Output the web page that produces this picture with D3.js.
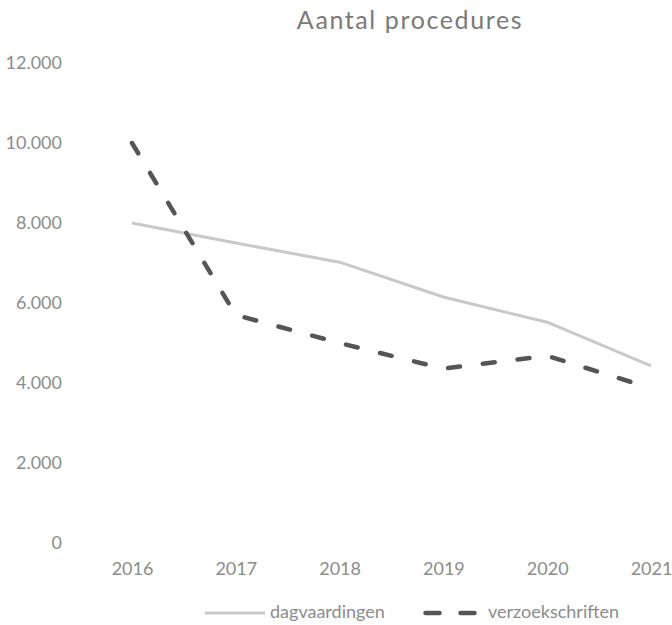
<!DOCTYPE html>
<html>
<head>
<meta charset="utf-8">
<script src="https://cdn.jsdelivr.net/npm/d3@7"></script>
<style>
  body { margin: 0; background: #fff; }
  text { font-family: Lato, "Open Sans", sans-serif; }
</style>
</head>
<body>
<div class="canvas"></div>
<script>
const years = [2016, 2017, 2018, 2019, 2020, 2021];
const dagvaardingen = [8000, 7500, 7020, 6150, 5520, 4430];
const verzoekschriften = [10000, 5700, 5000, 4360, 4680, 3870];
const yTicks = [0, 2000, 4000, 6000, 8000, 10000, 12000];

const dims = {width: 672, height: 625};
const plot = {left: 132, right: 651, top: 63, bottom: 543};

const svg = d3.select('.canvas').append('svg')
  .attr('width', dims.width)
  .attr('height', dims.height);

const x = d3.scalePoint().domain(years).range([plot.left, plot.right]);
const y = d3.scaleLinear().domain([0, 12000]).range([plot.bottom, plot.top]);

const fmt = d => d3.format(',')(d).replace(/,/g, '.');

// title
svg.append('text')
  .attr('x', 410).attr('y', 29)
  .attr('text-anchor', 'middle')
  .attr('font-size', 25)
  .attr('letter-spacing', 1.6)
  .attr('fill', '#7a7a7a')
  .text('Aantal procedures');

// y axis labels
const yAxis = svg.append('g')
  .attr('transform', 'translate(62,0)')
  .call(d3.axisLeft(y).tickValues(yTicks).tickFormat(fmt).tickSize(0).tickPadding(0));
yAxis.select('.domain').remove();
yAxis.selectAll('text').attr('font-size', 18).attr('fill', '#8c8c8c').attr('font-family', 'Lato, sans-serif');

// x axis labels
const xAxis = svg.append('g')
  .attr('transform', 'translate(0,562.5)')
  .call(d3.axisBottom(x).tickSize(0).tickPadding(0));
xAxis.select('.domain').remove();
xAxis.selectAll('text').attr('font-size', 18).attr('fill', '#8c8c8c').attr('font-family', 'Lato, sans-serif');

const line = d3.line().x((d, i) => x(years[i])).y(d => y(d));

svg.append('path')
  .datum(dagvaardingen)
  .attr('fill', 'none')
  .attr('stroke', '#c9c9c9')
  .attr('stroke-width', 3)
  .attr('stroke-linejoin', 'round')
  .attr('d', line);

svg.append('path')
  .datum(verzoekschriften)
  .attr('fill', 'none')
  .attr('stroke', '#555')
  .attr('stroke-width', 4.5)
  .attr('stroke-linecap', 'round')
  .attr('stroke-dasharray', '12,23')
  .attr('d', line);

// legend
const legend = svg.append('g').attr('transform', 'translate(0,613)');
legend.append('line')
  .attr('x1', 205).attr('x2', 265).attr('y1', 0).attr('y2', 0)
  .attr('stroke', '#c9c9c9').attr('stroke-width', 3);
legend.append('text')
  .attr('x', 270).attr('y', 5)
  .attr('font-size', 18).attr('fill', '#8c8c8c')
  .text('dagvaardingen');
legend.append('line')
  .attr('x1', 425.5).attr('x2', 474.5).attr('y1', 0).attr('y2', 0)
  .attr('stroke', '#555').attr('stroke-width', 4.5)
  .attr('stroke-linecap', 'round')
  .attr('stroke-dasharray', '14,21');
legend.append('text')
  .attr('x', 488).attr('y', 5)
  .attr('font-size', 18).attr('fill', '#8c8c8c')
  .text('verzoekschriften');
</script>
</body>
</html>
